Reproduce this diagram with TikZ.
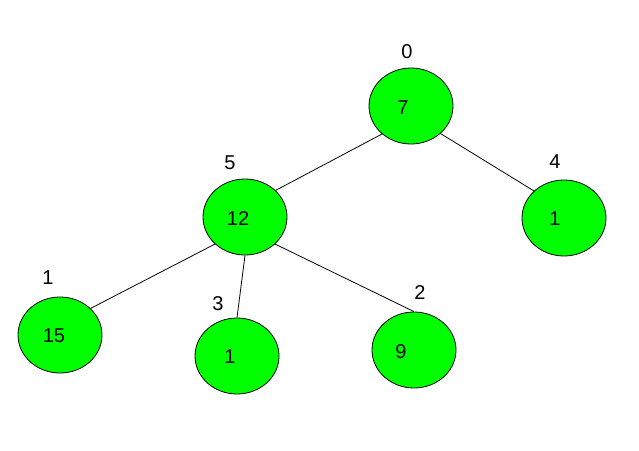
\documentclass[tikz,border=0pt]{standalone}
\usepackage{fontspec}
\setmainfont{Liberation Sans}
\usetikzlibrary{positioning,shapes.geometric}
\definecolor{heapgreen}{RGB}{0,255,0}
\tikzset{heap/.style={ellipse,draw,fill=heapgreen,minimum width=84pt,minimum height=76pt,inner sep=0pt}}

\begin{document}
\begin{tikzpicture}[x=1pt,y=-1pt,line width=0.8pt,font=\fontsize{20}{24}\selectfont]
\useasboundingbox (0,0) rectangle (639,450);
% Draw heap nodes
\node[heap] (h0) at (411,106) {};
\node[heap] (h5) at (245,217) {};
\node[heap] (h4) at (564,218) {};
\node[heap] (h1) at (60,335) {};
\node[heap] (h3) at (237,356) {};
\node[heap] (h2) at (414,350) {};
% Values inside the nodes
\node (v0) at (403,107.5) {7};
\node (v5) at (238,219) {12};
\node (v4) at (555,219) {1};
\node (v1) at (54,336) {15};
\node (v3) at (230,357) {1};
\node (v2) at (401,352) {9};
% Array indices
\node (i0) at (407,52) {0};
\node (i5) at (230,163) {5};
\node (i4) at (555,162) {4};
\node (i1) at (48,278) {1};
\node (i3) at (218,304) {3};
\node (i2) at (420,293) {2};
% Draw edges
\draw (h0.224) -- (h5.41);
\draw (h0.-43) -- (h4.138);
\draw (h5.222) -- (h1.41);
\draw (h5.south) -- (h3.north);
\draw (h5.-42) -- (h2.north);
\end{tikzpicture}
\end{document}
